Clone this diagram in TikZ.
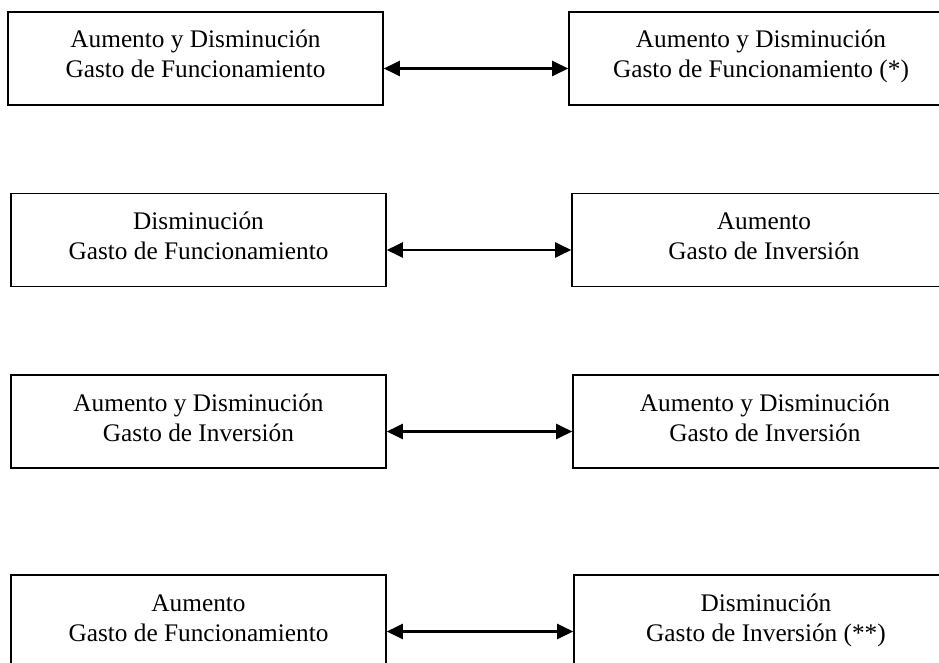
\documentclass[tikz,border=0pt]{standalone}
\usepackage{fontspec}
\setmainfont{Liberation Serif}
\usetikzlibrary{arrows.meta}
% fixed ascent of the first line and descent of the last one,
% so every two-line label sits at the same height in its box
\newcommand{\boxtopline}{\rule{0pt}{20pt}}
\newcommand{\boxbotline}{\rule[-11pt]{0pt}{11pt}}
\begin{document}
\begin{tikzpicture}[x=1pt,y=-1pt,
  box/.style={draw=black,line width=1.6pt,rectangle,minimum height=93pt,
    align=center,inner sep=0pt,
    font=\fontsize{25.3pt}{30pt}\selectfont},
  lbox/.style={box,minimum width=375pt},
  rbox/.style={box,minimum width=384pt},
  link/.style={line width=2.3pt,
    {Triangle[length=16pt,width=15pt]}-{Triangle[length=16pt,width=15pt]}}]
  \useasboundingbox (0,0) rectangle (939,663);
  \clip (0,0) rectangle (939,663);

  % row 1
  \node[lbox] (l1) at (195.5,58.5)
    {\boxtopline Aumento y Disminución\\Gasto de Funcionamiento\boxbotline};
  \node[rbox] (r1) at (761,58.5)
    {\boxtopline Aumento y Disminución\\Gasto de Funcionamiento (*)\boxbotline};
  % row 2
  \node[lbox] (l2) at (198.5,240)
    {\boxtopline Disminución\\Gasto de Funcionamiento\boxbotline};
  \node[rbox] (r2) at (764,240)
    {\boxtopline Aumento\\Gasto de Inversión\boxbotline};
  % row 3
  \node[lbox] (l3) at (198.5,421.5)
    {\boxtopline Aumento y Disminución\\Gasto de Inversión\boxbotline};
  \node[rbox] (r3) at (765,421.5)
    {\boxtopline Aumento y Disminución\\Gasto de Inversión\boxbotline};
  % row 4
  \node[lbox] (l4) at (198.5,621.5)
    {\boxtopline Aumento\\Gasto de Funcionamiento\boxbotline};
  \node[rbox] (r4) at (766,621.5)
    {\boxtopline Disminución\\Gasto de Inversión (**)\boxbotline};

  % two-way links between each pair
  \foreach \a/\b in {l1/r1,l2/r2,l3/r3,l4/r4}
    \draw[link] ([yshift=-10pt]\a.east) -- ([yshift=-10pt]\b.west);
\end{tikzpicture}
\end{document}
